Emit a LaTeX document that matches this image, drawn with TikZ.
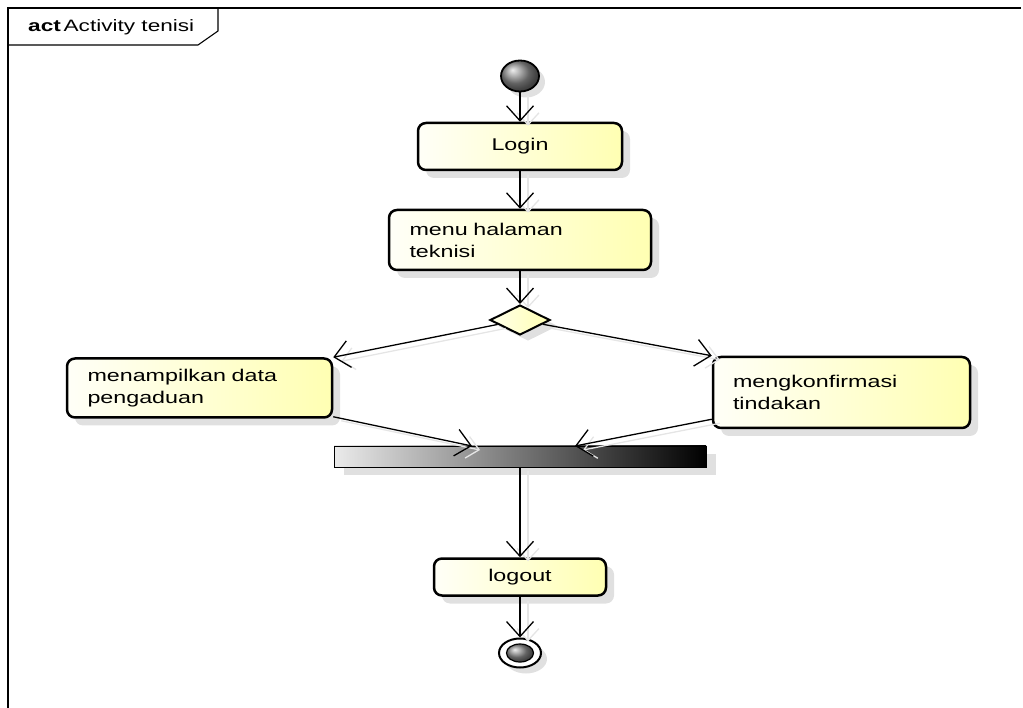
\documentclass[tikz,border=0pt]{standalone}
\usepackage{fontspec}
\newfontfamily\umlfont[FakeStretch=1.37]{Liberation Sans}
\usetikzlibrary{arrows.meta,shapes.geometric,shadings,shadows}
\tikzset{
  act/.style={draw=black, line width=2.5pt, rounded corners=8pt,
    left color=yellow!3, right color=yellow!30, inner sep=0pt,
    font=\umlfont\fontsize{17}{22}\selectfont,
    drop shadow={shadow xshift=8pt, shadow yshift=-8pt, fill=black!12, opacity=1}},
  flow/.style={line width=1.3pt, -{Straight Barb[length=15pt,width=27pt,line width=1.3pt]}},
  flowshadow/.style={line width=1.3pt, draw=black!10, -{Straight Barb[length=12pt,width=22pt,line width=1.3pt]}},
}
\newcommand{\flowedge}[2]{%
  \draw[flowshadow, transform canvas={shift={(8pt,-4pt)}}] #1 -- #2;
  \draw[flow] #1 -- #2;}
\begin{document}
\begin{tikzpicture}[x=1pt,y=-1pt]
\useasboundingbox (0,0) rectangle (1023,708);
% frame
\draw[line width=1.1pt] (8,708) -- (8,8) -- (1021,8);
\draw[line width=1.1pt] (8,45) -- (198,45) -- (218,31) -- (218,8);
\node[anchor=west, inner sep=0pt, font=\umlfont\fontsize{16.5}{18}\selectfont] (title) at (28,27) {\textbf{act}\,Activity tenisi};

% nodes
\node[ellipse, minimum width=38pt, minimum height=31pt, inner sep=0pt, draw=black, line width=1.8pt,
  shading=ball, ball color=black!45,
  drop shadow={shadow xshift=6pt, shadow yshift=-6pt, fill=black!12, opacity=1}] (start) at (520,76) {};
\node[act, minimum width=204pt, minimum height=47pt] (login) at (520,146.5) {Login};
\node[act, minimum width=262pt, minimum height=60pt, text width=221pt, align=left] (menu) at (520,240) {menu halaman\\teknisi};
\node[diamond, aspect=2, minimum width=60pt, minimum height=30pt, inner sep=0pt, draw=black, line width=2pt,
  left color=yellow!8, right color=yellow!30,
  drop shadow={shadow xshift=8pt, shadow yshift=-6pt, fill=black!12, opacity=1}] (dec) at (520,320) {};
\node[act, minimum width=265pt, minimum height=59pt, text width=224pt, align=left] (left) at (199.5,388) {menampilkan data\\pengaduan};
\node[act, minimum width=257pt, minimum height=71pt, text width=217pt, align=left] (right) at (841.5,392.5) {mengkonfirmasi\\tindakan};
\node[rectangle, minimum width=372pt, minimum height=21pt, inner sep=0pt, draw=black, line width=0.9pt,
  left color=black!8, right color=black,
  drop shadow={shadow xshift=10pt, shadow yshift=-8pt, fill=black!12, opacity=1}] (bar) at (520,456.5) {};
\node[act, minimum width=172pt, minimum height=37pt] (logout) at (520,577) {logout};
\node[ellipse, minimum width=42pt, minimum height=29pt, inner sep=0pt, draw=black, line width=2pt, fill=white,
  drop shadow={shadow xshift=6pt, shadow yshift=-6pt, fill=black!12, opacity=1}] (end) at (520,653) {};
\node[ellipse, minimum width=27pt, minimum height=18pt, inner sep=0pt, draw=black, line width=1.2pt,
  shading=ball, ball color=black!45] (endin) at (520,653) {};

\coordinate (j1) at (472,446);
\coordinate (j2) at (575,446);

% connectors
\flowedge{(start)}{(login)}
\flowedge{(login)}{(menu)}
\flowedge{(menu)}{(dec)}
\flowedge{(dec)}{(left.north east)}
\flowedge{(dec)}{(right.north west)}
\flowedge{([yshift=2pt]left.south east)}{(j1)}
\flowedge{([yshift=10pt]right.south west)}{(j2)}
\flowedge{(bar)}{(logout)}
\flowedge{(logout)}{(end)}
\end{tikzpicture}
\end{document}
